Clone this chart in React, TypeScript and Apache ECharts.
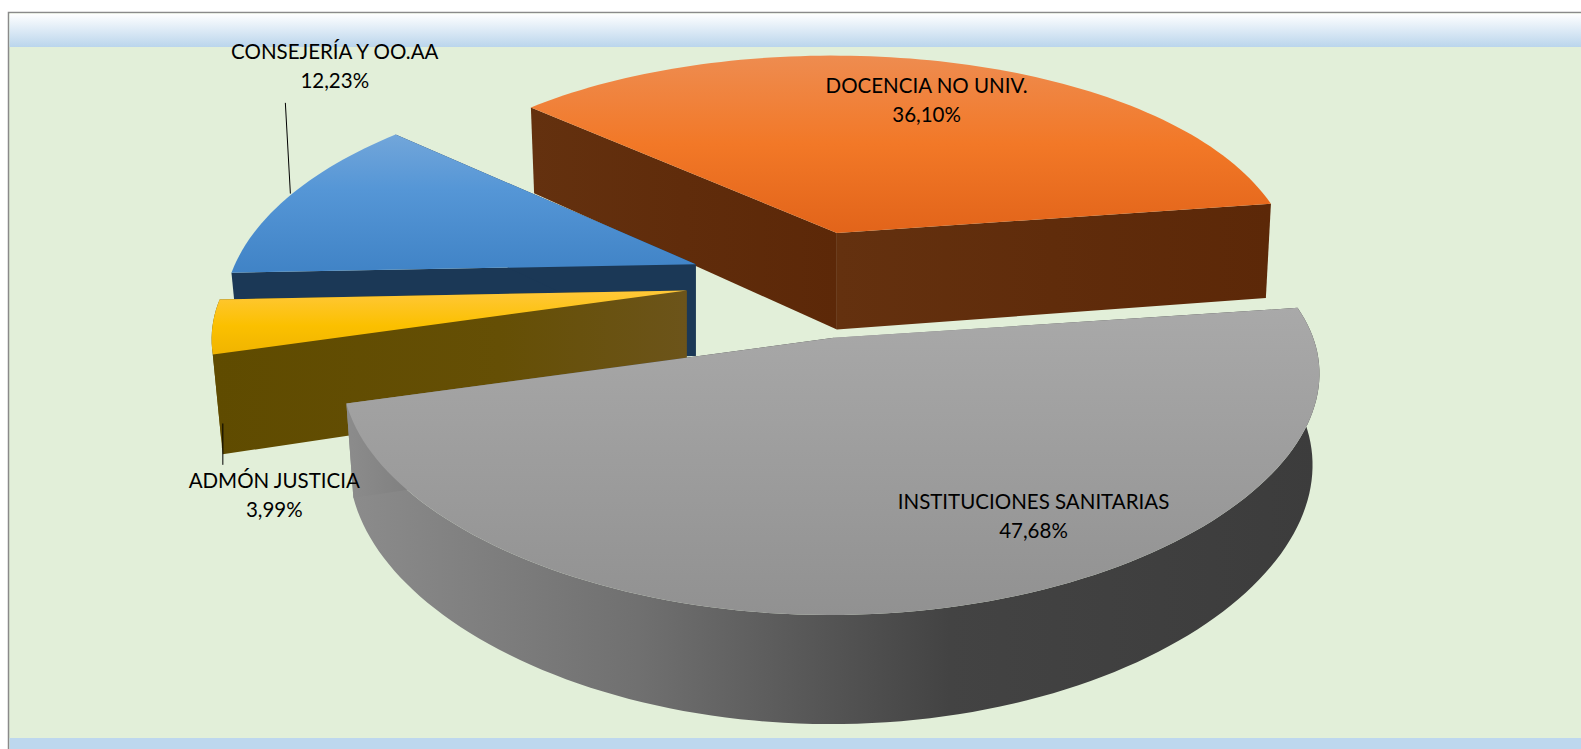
import React, { useEffect, useRef } from "react";
import * as echarts from "echarts";

const categories = ["INSTITUCIONES SANITARIAS", "ADMÓN JUSTICIA", "CONSEJERÍA Y OO.AA", "DOCENCIA NO UNIV."];
const values = [47.68, 3.99, 12.23, 36.1];

// Layout below is written in units of a 1568-wide drawing and scaled to the 1581 page.
const S = 1581 / 1568;
const START_DEG = -8.2;
const P = 0.2195, KX = 469, KY = 214.6;
const paint = [40, 20, 10, 0]; // back-to-front order per slice

const geometry = [
  { cx: 824, cy: 335, kx: 1.02, ky: 1, ax: 827, ay: 335, kz: 89.8, q: 0.014, px: 0.16 },
  { cx: 681, cy: 289, kx: 0.98, ky: 0.96, ax: 681, ay: 288, kz: 96, q: 0.02, px: P },
  { cx: 688, cy: 262, kx: 0.97, ky: 1.03, ax: 690, ay: 262, kz: 93, q: 0.02, px: P },
  { cx: 826, cy: 232, kx: 0.96, ky: 1.005, ax: 830, ay: 231, kz: 97, q: 0.012, px: 0.18 },
];

const v = (stops: [number, string][]) => ({ type: "linear", x: 0, y: 0, x2: 0, y2: 1, colorStops: stops.map(([offset, color]) => ({ offset, color })) });
const h = (stops: [number, string][]) => ({ type: "linear", x: 0, y: 0, x2: 1, y2: 0, colorStops: stops.map(([offset, color]) => ({ offset, color })) });
const topFills = [
  v([[0, "#a9a9a9"], [1, "#919191"]]),
  v([[0, "#ffc83a"], [0.55, "#fbc000"], [1, "#f0b400"]]),
  v([[0, "#72a6da"], [0.4, "#5596d6"], [1, "#4083c6"]]),
  v([[0, "#ee8c50"], [0.5, "#f27827"], [1, "#e2641a"]]),
];
const sideFills = [
  h([[0, "#8c8c8c"], [0.3, "#707070"], [0.62, "#434343"], [1, "#3c3c3c"]]),
  h([[0, "#5f4b00"], [0.6, "#654f05"], [1, "#6c541a"]]),
  "#1b3856",
  h([[0, "#64310f"], [0.5, "#602c0b"], [1, "#5c2808"]]),
];
const bandFill = v([[0, "#ffffff"], [1, "#bad5ec"]]);

const labelPos = [[1025, 511.5], [272, 490], [332, 65], [919, 99]];
const leaders = [null, [221, 420, 221, 461], [283, 102, 288, 192], null];

function project(g: any, x: number, y: number, z: number) {
  const fx = 1 / (1 - g.px * y + g.q * z);
  const fy = 1 / (1 - P * y + g.q * z);
  return [(g.cx + KX * g.kx * x * fx) * S, (g.cy + (KY * g.ky * y + g.kz * z) * fy) * S];
}
function apex(g: any, z: number) {
  const f = 1 / (1 + g.q * z);
  return [g.ax * S, (g.ay + g.kz * z * f) * S];
}
function arc(g: any, a0: number, a1: number, z: number) {
  const pts: number[][] = [];
  const n = Math.max(4, Math.ceil(Math.abs(a1 - a0) / 1.5));
  for (let i = 0; i <= n; i++) {
    const a = ((a0 + ((a1 - a0) * i) / n) * Math.PI) / 180;
    pts.push(project(g, Math.cos(a), Math.sin(a), z));
  }
  return pts;
}

const total = values.reduce((s, x) => s + x, 0);

function renderSlice(params: any, api: any) {
  const i = params.dataIndex;
  const val = api.value(0);
  let before = 0;
  for (let k = 0; k < i; k++) before += values[k];
  const a0 = START_DEG + (before / total) * 360;
  const a1 = a0 + (val / total) * 360;
  const g = geometry[i];
  const base = paint[i];
  const topArc = arc(g, a0, a1, 0);
  const botArc = arc(g, a0, a1, 1);
  const A = apex(g, 0), B = apex(g, 1);
  const children: any[] = [];
  const poly = (points: number[][], fill: any, z2: number) => ({
    type: "polygon", z2, shape: { points }, style: { fill, stroke: null },
  });
  if (i === 0 || i === 1) children.push(poly([...topArc, ...botArc.slice().reverse()], sideFills[i], base));
  children.push(poly([A, topArc[0], botArc[0], B], sideFills[i], base + 1));
  children.push(poly([A, topArc[topArc.length - 1], botArc[botArc.length - 1], B], sideFills[i], base + 1));
  children.push(poly([A, ...topArc], topFills[i], base + 2));
  const l = leaders[i];
  if (l) children.push({ type: "line", z2: 100, shape: { x1: l[0] * S, y1: l[1] * S, x2: l[2] * S, y2: l[3] * S }, style: { stroke: "#000", lineWidth: 1 } });
  const pct = val.toFixed(2).replace(".", ",") + "%";
  children.push({
    type: "text", z2: 101, x: labelPos[i][0] * S, y: labelPos[i][1] * S,
    style: { text: `${categories[i]}\n${pct}`, fill: "#000", fontFamily: "Lato", fontSize: 20.5, lineHeight: 29, align: "center", verticalAlign: "middle" },
  });
  return { type: "group", children };
}

export default function App() {
  const ref = useRef<HTMLDivElement>(null);
  useEffect(() => {
    document.body.style.margin = "0";
    const chart = echarts.init(ref.current!, null, { renderer: "svg" });
    chart.setOption({
      animation: false,
      backgroundColor: "#ffffff",
      graphic: {
        elements: [
          { type: "rect", z: -10, silent: true, shape: { x: 8.5, y: 12.5, width: 1580, height: 740 }, style: { fill: "#e2efd9", stroke: "#8a8a8a", lineWidth: 1.5 } },
          { type: "rect", z: -9, silent: true, shape: { x: 9.5, y: 13.5, width: 1572, height: 33.5 }, style: { fill: bandFill } },
          { type: "rect", z: -9, silent: true, shape: { x: 9.5, y: 738, width: 1572, height: 11 }, style: { fill: "#bdd7ee" } },
        ],
      },
      series: [{
        type: "custom",
        coordinateSystem: "none",
        silent: true,
        renderItem: renderSlice,
        data: values.map((x, i) => [x, i]),
      }],
    });
    return () => chart.dispose();
  }, []);
  return <div ref={ref} style={{ position: "absolute", left: 0, top: 0, width: 1581, height: 749 }} />;
}
